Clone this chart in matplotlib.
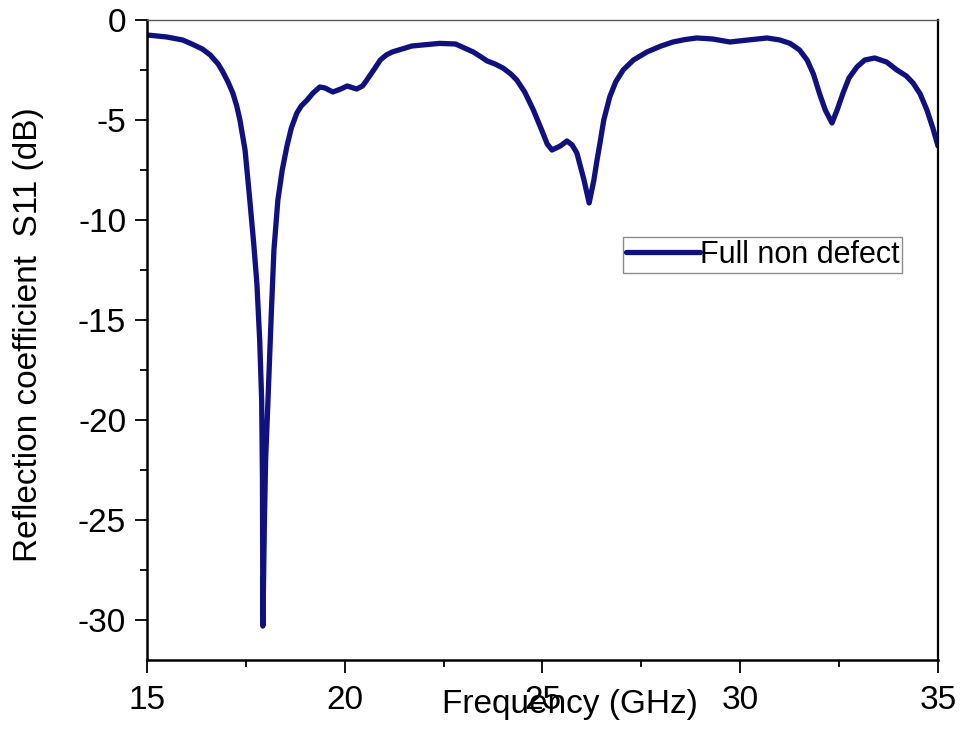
import matplotlib.pyplot as plt
from matplotlib.ticker import MultipleLocator

plt.rcParams['font.family'] = ['Liberation Sans', 'DejaVu Sans']
plt.rcParams['axes.unicode_minus'] = False

# S11 trace (GHz, dB)
freq = [15.0, 15.5, 15.9, 16.1, 16.4, 16.6, 16.8, 16.92, 17.05, 17.17,
        17.27, 17.35, 17.48, 17.6, 17.7, 17.78, 17.85, 17.9, 17.92, 17.93,
        17.97, 18.0, 18.06, 18.14, 18.21, 18.31, 18.42, 18.54, 18.65, 18.79,
        18.9, 19.05, 19.2, 19.37, 19.5, 19.7, 19.9, 20.06, 20.3, 20.45,
        20.56, 20.75, 20.9, 21.05, 21.2, 21.7, 22.4, 22.8, 23.25, 23.45,
        23.6, 23.8, 24.0, 24.2, 24.35, 24.55, 24.77, 25.0, 25.12, 25.24,
        25.45, 25.62, 25.75, 25.87, 25.97, 26.05, 26.18, 26.3, 26.38, 26.45,
        26.55, 26.7, 26.85, 27.04, 27.3, 27.64, 28.0, 28.3, 28.6, 28.9,
        29.3, 29.74, 30.2, 30.68, 31.0, 31.26, 31.5, 31.69, 31.85, 32.0,
        32.15, 32.32, 32.45, 32.6, 32.75, 32.95, 33.15, 33.4, 33.7, 33.96,
        34.2, 34.37, 34.55, 34.72, 34.87, 35.0]
s11 = [-0.75, -0.85, -1.0, -1.17, -1.45, -1.75, -2.2, -2.6, -3.1, -3.65,
       -4.3, -5.0, -6.5, -9.0, -11.2, -13.2, -16.0, -19.0, -23.0, -30.3,
       -25.0, -22.0, -19.0, -14.85, -11.5, -9.0, -7.5, -6.3, -5.4, -4.65,
       -4.3, -4.0, -3.65, -3.35, -3.4, -3.6, -3.45, -3.3, -3.45, -3.3,
       -3.0, -2.45, -2.0, -1.75, -1.6, -1.3, -1.17, -1.2, -1.6, -1.85,
       -2.05, -2.2, -2.4, -2.7, -3.0, -3.6, -4.5, -5.6, -6.2, -6.5,
       -6.3, -6.05, -6.25, -6.65, -7.4, -8.0, -9.15, -8.0, -7.0, -6.2,
       -5.0, -3.85, -3.1, -2.5, -2.0, -1.6, -1.3, -1.1, -0.98, -0.9,
       -0.95, -1.1, -1.0, -0.9, -1.0, -1.17, -1.5, -2.0, -2.7, -3.65,
       -4.5, -5.15, -4.5, -3.65, -2.9, -2.35, -2.0, -1.9, -2.1, -2.5,
       -2.8, -3.15, -3.7, -4.5, -5.4, -6.3]

fig = plt.figure(figsize=(9.65, 7.4), dpi=100)
ax = fig.add_axes([0.1523, 0.108, 0.8197, 0.865])

ax.plot(freq, s11, color='#10107f', lw=3.8, solid_joinstyle='round',
        solid_capstyle='round', label='Full non defect')

ax.set_xlim(15, 35)
ax.set_ylim(-32, 0)
ax.xaxis.set_major_locator(MultipleLocator(5))
ax.xaxis.set_minor_locator(MultipleLocator(2.5))
ax.yaxis.set_major_locator(MultipleLocator(5))
ax.yaxis.set_minor_locator(MultipleLocator(2.5))

ax.tick_params(which='major', direction='out', length=9, width=1.3,
               labelsize=24, top=False, right=False)
ax.tick_params(which='minor', direction='out', length=5, width=1.3,
               top=False, right=False)
ax.tick_params(axis='x', pad=9)
ax.tick_params(axis='y', pad=6)

for side in ['left', 'bottom']:
    ax.spines[side].set_linewidth(1.8)
ax.spines['right'].set_linewidth(1.6)
ax.spines['top'].set_linewidth(1.0)
ax.spines['top'].set_color('0.35')

ax.set_xlabel('Frequency (GHz)', fontsize=24)
ax.set_ylabel('Reflection coefficient  S11 (dB)', fontsize=24)
ax.xaxis.set_label_coords(0.535, -0.045)
ax.yaxis.set_label_coords(-0.13, 0.509)

leg = ax.legend(loc='upper left', bbox_to_anchor=(0.602, 0.661),
                borderaxespad=0, fontsize=22, handlelength=2.4,
                handletextpad=0.0, borderpad=0.1, fancybox=False,
                framealpha=1)
leg.get_frame().set_edgecolor('0.55')
leg.get_frame().set_linewidth(1.0)

fig.savefig('out.png', dpi=100)
